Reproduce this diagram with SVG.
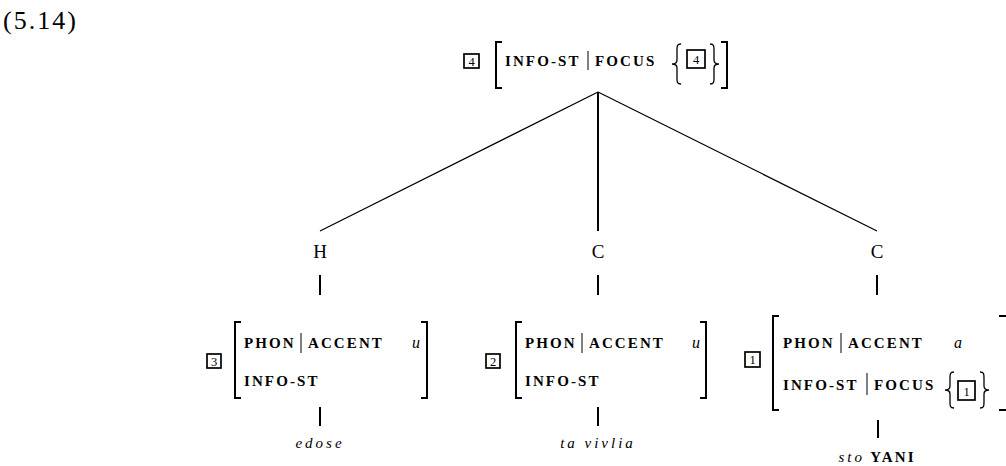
<svg xmlns="http://www.w3.org/2000/svg" width="1006" height="466" viewBox="0 0 1006 466">
<style>
text { font-family: "Liberation Serif", "Times New Roman", serif; fill: #000; }
.sc { font-weight: bold; font-size: 15px; letter-spacing: 2.1px; }
.it { font-style: italic; font-size: 15px; letter-spacing: 3px; }
.val { font-style: italic; font-size: 16px; }
.tagt { font-size: 12.5px; text-anchor: middle; }
.lbl { font-size: 19px; text-anchor: middle; }
.leaf { text-anchor: middle; }
.tag { fill: none; stroke: #000; stroke-width: 1.7; }
.br { fill: none; stroke: #000; stroke-width: 2; }
.brace { fill: none; stroke: #000; stroke-width: 1.3; }
.sep { stroke: #000; stroke-width: 1; }
.edge { stroke: #000; stroke-width: 1.2; fill: none; }
.stem { stroke: #000; stroke-width: 2; fill: none; }
</style>
<rect width="1006" height="466" fill="#fff"/>
<text x="3" y="29" font-size="26" letter-spacing="2">(5.14)</text>

<g id="connectors">
  <line class="edge" x1="598" y1="92" x2="320" y2="231"/>
  <line class="stem" x1="598" y1="92" x2="598" y2="231"/>
  <line class="edge" x1="598" y1="92" x2="877" y2="231"/>
  <line class="stem" x1="320" y1="275" x2="320" y2="295"/>
  <line class="stem" x1="598" y1="275" x2="598" y2="295"/>
  <line class="stem" x1="877" y1="275" x2="877" y2="295"/>
  <line class="stem" x1="320" y1="407" x2="320" y2="426"/>
  <line class="stem" x1="598" y1="407" x2="598" y2="426"/>
  <line class="stem" x1="878" y1="420" x2="878" y2="438"/>
</g>

<g id="root-avm">
  <rect class="tag" x="464" y="54" width="15" height="14"/>
  <text class="tagt" x="471.5" y="65.5">4</text>
  <path class="br" d="M502,42 H496 V88 H502"/>
  <text class="sc" x="505" y="66">INFO-ST</text>
  <line class="sep" x1="588" y1="51" x2="588" y2="70"/>
  <text class="sc" x="595" y="66">FOCUS</text>
  <path class="brace" d="M681,44 C677,44 677,46 677,50 L677,60 C677,63 675,64 672,64 C675,64 677,65 677,68 L677,78 C677,82 677,84 681,84"/>
  <rect class="tag" x="687" y="50" width="18" height="18"/>
  <text class="tagt" x="696" y="64">4</text>
  <path class="brace" d="M710,44 C714,44 714,46 714,50 L714,60 C714,63 716,64 719,64 C716,64 714,65 714,68 L714,78 C714,82 714,84 710,84"/>
  <path class="br" d="M721,42 H727 V88 H721"/>
</g>

<g id="node-H"><text class="lbl" x="320" y="258">H</text></g>
<g id="node-C1"><text class="lbl" x="598" y="258">C</text></g>
<g id="node-C2"><text class="lbl" x="877" y="258">C</text></g>

<g id="avm-3">
  <rect class="tag" x="207" y="354" width="14" height="14"/>
  <text class="tagt" x="214" y="365.5">3</text>
  <path class="br" d="M241,322 H235 V398 H241"/>
  <text class="sc" x="244" y="348">PHON</text>
  <line class="sep" x1="301" y1="333" x2="301" y2="353"/>
  <text class="sc" x="308" y="348">ACCENT</text>
  <text class="val" x="412" y="348">u</text>
  <text class="sc" x="244" y="386">INFO-ST</text>
  <path class="br" d="M421,322 H427 V398 H421"/>
</g>

<g id="avm-2">
  <rect class="tag" x="486" y="354" width="14" height="14"/>
  <text class="tagt" x="493" y="365.5">2</text>
  <path class="br" d="M522,322 H516 V398 H522"/>
  <text class="sc" x="525" y="348">PHON</text>
  <line class="sep" x1="582" y1="333" x2="582" y2="353"/>
  <text class="sc" x="589" y="348">ACCENT</text>
  <text class="val" x="692" y="348">u</text>
  <text class="sc" x="525" y="386">INFO-ST</text>
  <path class="br" d="M700,322 H706 V398 H700"/>
</g>

<g id="avm-1">
  <rect class="tag" x="745" y="352" width="15" height="15"/>
  <text class="tagt" x="752.5" y="364">1</text>
  <path class="br" d="M779,316 H773 V410 H779"/>
  <text class="sc" x="783" y="348">PHON</text>
  <line class="sep" x1="841" y1="333" x2="841" y2="353"/>
  <text class="sc" x="848" y="348">ACCENT</text>
  <text class="val" x="954" y="348">a</text>
  <text class="sc" x="783" y="390">INFO-ST</text>
  <line class="sep" x1="867" y1="373" x2="867" y2="395"/>
  <text class="sc" x="874" y="390">FOCUS</text>
  <path class="brace" d="M954,372 C950,372 950,374 950,378 L950,386 C950,389 948,390 945,390 C948,390 950,391 950,394 L950,402 C950,406 950,408 954,408"/>
  <rect class="tag" x="958" y="381" width="17" height="19"/>
  <text class="tagt" x="966.5" y="396">1</text>
  <path class="brace" d="M980,372 C984,372 984,374 984,378 L984,386 C984,389 986,390 989,390 C986,390 984,391 984,394 L984,402 C984,406 984,408 980,408"/>
  <path class="br" d="M999,316 H1007 V410 H999"/>
</g>

<g id="leaf-edose"><text class="it leaf" x="320" y="448">edose</text></g>
<g id="leaf-tavivlia"><text class="it leaf" x="598" y="448">ta vivlia</text></g>
<g id="leaf-stoyani"><text class="leaf" x="877" y="462"><tspan class="it">sto</tspan><tspan class="sc"> YANI</tspan></text></g>
</svg>
